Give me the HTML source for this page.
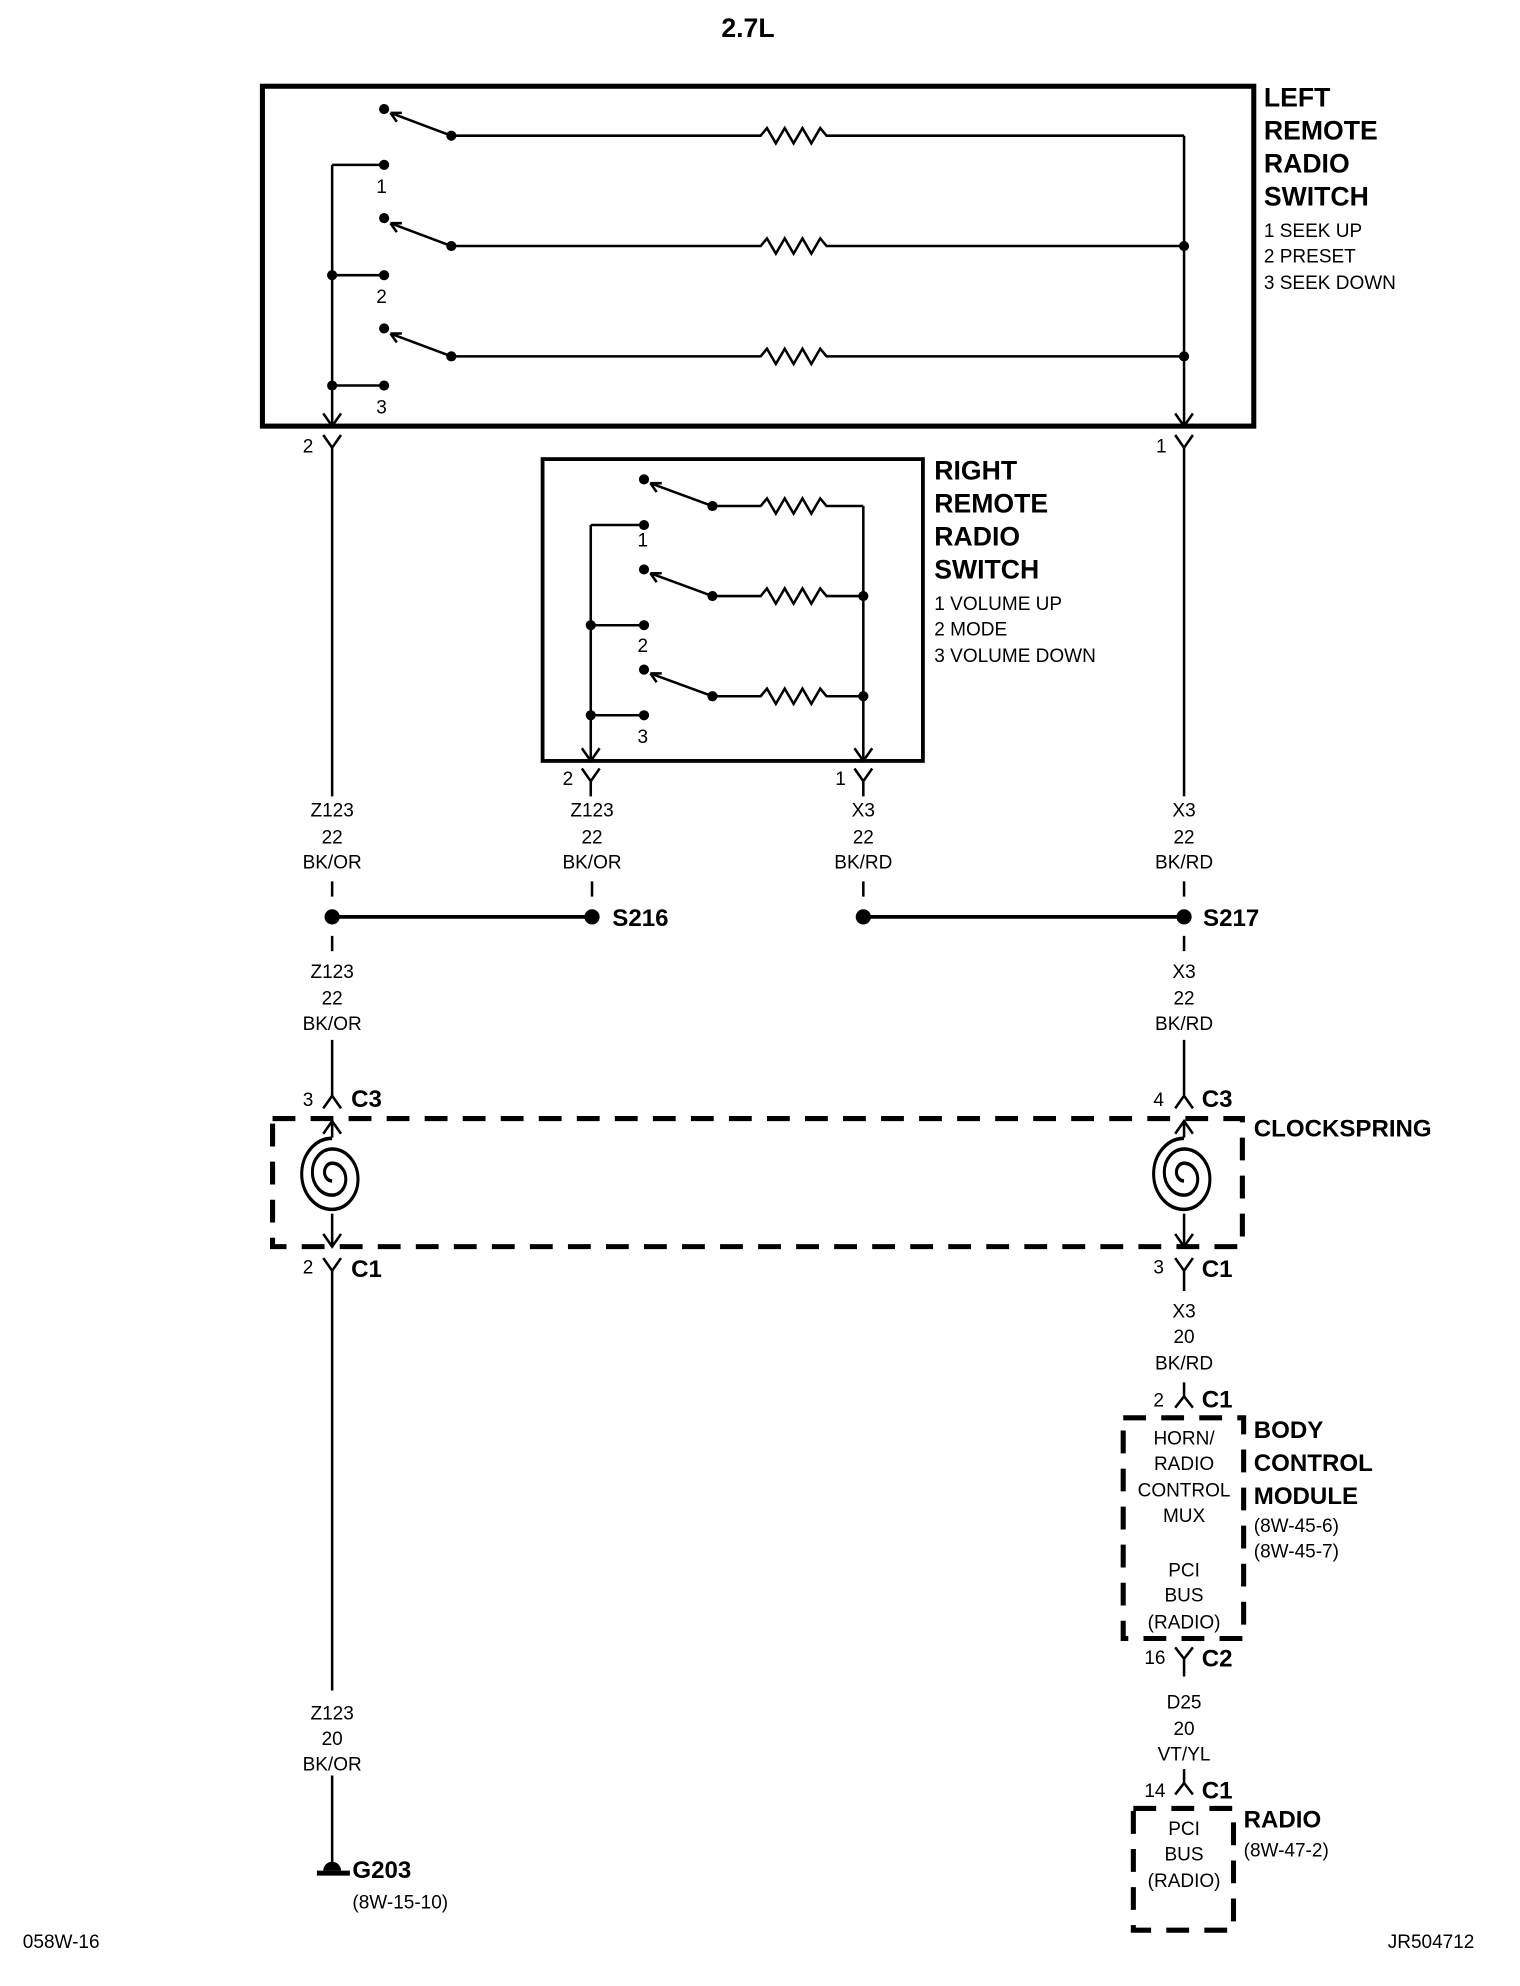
<!DOCTYPE html>
<html><head><meta charset="utf-8"><style>
html,body{margin:0;padding:0;background:#fff}
svg{display:block}
text{font-family:"Liberation Sans Narrow","Liberation Sans",sans-serif;fill:#000}
.b{font-weight:bold;font-size:21px}
.s{font-size:15px}
.m{font-size:15px;text-anchor:middle}
.mb{font-weight:bold;font-size:19px}
</style></head><body>
<svg width="1520" height="1986" viewBox="0 0 1199 1566" preserveAspectRatio="none" xmlns="http://www.w3.org/2000/svg">
<defs>
<g id="sp" fill="none" stroke="#000" stroke-width="2">
<path transform="scale(1.2,1.4)" d="M0,-21 A20,20 0 0 0 0,19 A17,17 0 0 0 0,-15 A13,13 0 0 0 0,11 A9,9 0 0 0 0,-7 A5,5 0 0 0 0,3"/>
</g>
</defs>
<g stroke="#000" fill="none" stroke-width="2">
<rect x="207" y="68" width="782" height="268" stroke-width="4"/>
<line x1="262" y1="130" x2="262" y2="336"/>
<line x1="262" y1="130" x2="303" y2="130"/>
<line x1="262" y1="217" x2="303" y2="217"/>
<line x1="262" y1="304" x2="303" y2="304"/>
<path d="M255,326 L262,336 L269,326"/>
<path d="M934,107 V336 M927,326 L934,336 L941,326"/>
<path d="M356,107 H600 l5,-6 l7,12 l7,-12 l7,12 l7,-12 l7,12 l7,-12 l5,6 H934"/>
<path d="M356,194 H600 l5,-6 l7,12 l7,-12 l7,12 l7,-12 l7,12 l7,-12 l5,6 H934"/>
<path d="M356,281 H600 l5,-6 l7,12 l7,-12 l7,12 l7,-12 l7,12 l7,-12 l5,6 H934"/>
<path d="M356,107 L308,89 M308,89 l9,0 M308,89 l5,7"/>
<path d="M356,194 L308,176 M308,176 l9,0 M308,176 l5,7"/>
<path d="M356,281 L308,263 M308,263 l9,0 M308,263 l5,7"/>
<path d="M255,343 L262,353 L269,343 M262,353 V628"/>
<path d="M927,343 L934,353 L941,343 M934,353 V628"/>
<rect x="428" y="362" width="300" height="238" stroke-width="3"/>
<line x1="466" y1="414" x2="466" y2="600"/>
<line x1="466" y1="414" x2="508" y2="414"/>
<line x1="466" y1="493" x2="508" y2="493"/>
<line x1="466" y1="564" x2="508" y2="564"/>
<path d="M459,590 L466,600 L473,590"/>
<path d="M681,399 V600 M674,590 L681,600 L688,590"/>
<path d="M562,399 H600 l5,-6 l7,12 l7,-12 l7,12 l7,-12 l7,12 l7,-12 l5,6 H681"/>
<path d="M562,470 H600 l5,-6 l7,12 l7,-12 l7,12 l7,-12 l7,12 l7,-12 l5,6 H681"/>
<path d="M562,549 H600 l5,-6 l7,12 l7,-12 l7,12 l7,-12 l7,12 l7,-12 l5,6 H681"/>
<path d="M562,399 L513,381 M513,381 l9,0 M513,381 l5,7"/>
<path d="M562,470 L513,452 M513,452 l9,0 M513,452 l5,7"/>
<path d="M562,549 L513,531 M513,531 l9,0 M513,531 l5,7"/>
<path d="M459,606 L466,616 L473,606 M466,616 V628"/>
<path d="M674,606 L681,616 L688,606 M681,616 V628"/>
<path d="M262,695 V707 M467,695 V707 M681,695 V707 M934,695 V707"/>
<path d="M262,723 H467 M681,723 H934" stroke-width="3"/>
<path d="M262,738 V750 M934,738 V750"/>
<path d="M262,820 V866 M255,874 L262,864 L269,874"/>
<path d="M934,820 V866 M927,874 L934,864 L941,874"/>
<rect x="215" y="882" width="765" height="101" stroke-width="4" stroke-dasharray="18,12"/>
<path d="M262,884 V925 M255,894 L262,884 L269,894"/>
<path d="M262,953 V983 M255,973 L262,983 L269,973"/>
<path d="M934,884 V925 M927,894 L934,884 L941,894"/>
<path d="M934,953 V983 M927,973 L934,983 L941,973"/>
<path d="M255,992 L262,1002 L269,992 M262,1002 V1333"/>
<path d="M927,992 L934,1002 L941,992 M934,1002 V1018"/>
<path d="M262,1400 V1470"/>
<path d="M250,1477 H276" stroke-width="4"/>
<path d="M934,1090 V1101 M927,1110 L934,1101 L941,1110"/>
<rect x="886" y="1118" width="95" height="174" stroke-width="4" stroke-dasharray="18,12"/>
<path d="M927,1299 L934,1308 L941,1299 M934,1308 V1322"/>
<path d="M934,1395 V1406 M927,1415 L934,1406 L941,1415"/>
<rect x="894" y="1426" width="79" height="96" stroke-width="4" stroke-dasharray="18,12"/>
</g>
<rect x="236" y="897" width="52" height="60" fill="#fff"/>
<rect x="908" y="897" width="52" height="60" fill="#fff"/>
<use href="#sp" x="262" y="927"/>
<use href="#sp" x="934" y="927"/>
<g fill="#000">
<circle cx="303" cy="86" r="4"/><circle cx="356" cy="107" r="4"/>
<circle cx="303" cy="130" r="4"/>
<circle cx="303" cy="172" r="4"/><circle cx="356" cy="194" r="4"/><circle cx="934" cy="194" r="4"/>
<circle cx="303" cy="217" r="4"/><circle cx="262" cy="217" r="4"/>
<circle cx="303" cy="259" r="4"/><circle cx="356" cy="281" r="4"/><circle cx="934" cy="281" r="4"/>
<circle cx="303" cy="304" r="4"/><circle cx="262" cy="304" r="4"/>
<circle cx="508" cy="378" r="4"/><circle cx="562" cy="399" r="4"/>
<circle cx="508" cy="414" r="4"/>
<circle cx="508" cy="449" r="4"/><circle cx="562" cy="470" r="4"/><circle cx="681" cy="470" r="4"/>
<circle cx="508" cy="493" r="4"/><circle cx="466" cy="493" r="4"/>
<circle cx="508" cy="528" r="4"/><circle cx="562" cy="549" r="4"/><circle cx="681" cy="549" r="4"/>
<circle cx="508" cy="564" r="4"/><circle cx="466" cy="564" r="4"/>
<circle cx="262" cy="723" r="6"/><circle cx="467" cy="723" r="6"/>
<circle cx="681" cy="723" r="6"/><circle cx="934" cy="723" r="6"/>
<path d="M255,1475 a7,7 0 0 1 14,0 z"/>
</g>
<text x="590" y="29" class="b" text-anchor="middle">2.7L</text>
<text x="997" y="84" class="b">LEFT</text>
<text x="997" y="110" class="b">REMOTE</text>
<text x="997" y="136" class="b">RADIO</text>
<text x="997" y="162" class="b">SWITCH</text>
<text x="997" y="187" class="s">1 SEEK UP</text>
<text x="997" y="207" class="s">2 PRESET</text>
<text x="997" y="228" class="s">3 SEEK DOWN</text>
<text x="301" y="152" class="m">1</text>
<text x="301" y="239" class="m">2</text>
<text x="301" y="326" class="m">3</text>
<text x="243" y="357" class="m">2</text>
<text x="916" y="357" class="m">1</text>
<text x="737" y="378" class="b">RIGHT</text>
<text x="737" y="404" class="b">REMOTE</text>
<text x="737" y="430" class="b">RADIO</text>
<text x="737" y="456" class="b">SWITCH</text>
<text x="737" y="481" class="s">1 VOLUME UP</text>
<text x="737" y="501" class="s">2 MODE</text>
<text x="737" y="522" class="s">3 VOLUME DOWN</text>
<text x="507" y="431" class="m">1</text>
<text x="507" y="514" class="m">2</text>
<text x="507" y="586" class="m">3</text>
<text x="448" y="619" class="m">2</text>
<text x="663" y="619" class="m">1</text>
<text x="262" y="644" class="m">Z123</text><text x="262" y="665" class="m">22</text><text x="262" y="685" class="m">BK/OR</text>
<text x="467" y="644" class="m">Z123</text><text x="467" y="665" class="m">22</text><text x="467" y="685" class="m">BK/OR</text>
<text x="681" y="644" class="m">X3</text><text x="681" y="665" class="m">22</text><text x="681" y="685" class="m">BK/RD</text>
<text x="934" y="644" class="m">X3</text><text x="934" y="665" class="m">22</text><text x="934" y="685" class="m">BK/RD</text>
<text x="262" y="771" class="m">Z123</text><text x="262" y="792" class="m">22</text><text x="262" y="812" class="m">BK/OR</text>
<text x="934" y="771" class="m">X3</text><text x="934" y="792" class="m">22</text><text x="934" y="812" class="m">BK/RD</text>
<text x="483" y="730" class="mb">S216</text>
<text x="949" y="730" class="mb">S217</text>
<text x="243" y="872" class="m">3</text><text x="277" y="873" class="mb">C3</text>
<text x="914" y="872" class="m">4</text><text x="948" y="873" class="mb">C3</text>
<text x="989" y="896" class="mb">CLOCKSPRING</text>
<text x="243" y="1004" class="m">2</text><text x="277" y="1007" class="mb">C1</text>
<text x="914" y="1004" class="m">3</text><text x="948" y="1007" class="mb">C1</text>
<text x="934" y="1039" class="m">X3</text><text x="934" y="1059" class="m">20</text><text x="934" y="1080" class="m">BK/RD</text>
<text x="914" y="1109" class="m">2</text><text x="948" y="1110" class="mb">C1</text>
<text x="934" y="1139" class="m">HORN/</text><text x="934" y="1159" class="m">RADIO</text><text x="934" y="1180" class="m">CONTROL</text><text x="934" y="1200" class="m">MUX</text>
<text x="934" y="1243" class="m">PCI</text><text x="934" y="1263" class="m">BUS</text><text x="934" y="1284" class="m">(RADIO)</text>
<text x="989" y="1134" class="mb">BODY</text>
<text x="989" y="1160" class="mb">CONTROL</text>
<text x="989" y="1186" class="mb">MODULE</text>
<text x="989" y="1208" class="s">(8W-45-6)</text>
<text x="989" y="1228" class="s">(8W-45-7)</text>
<text x="911" y="1312" class="m">16</text><text x="948" y="1314" class="mb">C2</text>
<text x="934" y="1347" class="m">D25</text><text x="934" y="1368" class="m">20</text><text x="934" y="1388" class="m">VT/YL</text>
<text x="911" y="1417" class="m">14</text><text x="948" y="1418" class="mb">C1</text>
<text x="934" y="1447" class="m">PCI</text><text x="934" y="1467" class="m">BUS</text><text x="934" y="1488" class="m">(RADIO)</text>
<text x="981" y="1441" class="mb">RADIO</text>
<text x="981" y="1464" class="s">(8W-47-2)</text>
<text x="262" y="1356" class="m">Z123</text><text x="262" y="1376" class="m">20</text><text x="262" y="1396" class="m">BK/OR</text>
<text x="278" y="1481" class="mb">G203</text>
<text x="278" y="1505" class="s">(8W-15-10)</text>
<text x="18" y="1536" class="s">058W-16</text>
<text x="1163" y="1536" class="s" text-anchor="end">JR504712</text>
</svg>
</body></html>
